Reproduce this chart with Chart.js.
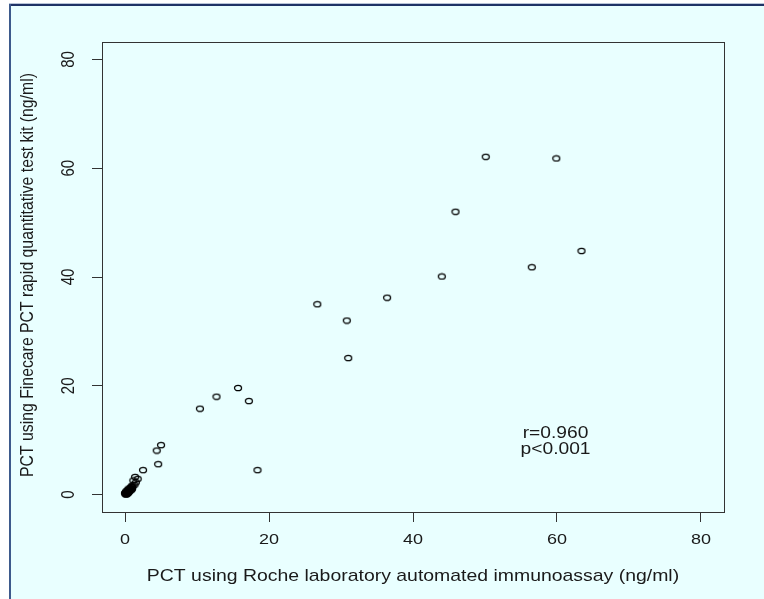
<!DOCTYPE html>
<html>
<head>
<meta charset="utf-8">
<script src="https://cdn.jsdelivr.net/npm/chart.js@4"></script>
<style>
  html,body{margin:0;padding:0;background:#ffffff;}
  #wrap{width:764px;height:599px;position:relative;}
</style>
</head>
<body>
<div id="wrap"><canvas id="c" width="764" height="599"></canvas></div>
<script>
// ---- data ----
const rocheX = [50.1, 59.9, 45.9, 63.4, 56.5, 44.0, 26.7, 36.4, 30.8, 31.0,
  10.4, 12.7, 15.7, 17.2, 18.4, 5.0, 4.4, 4.6, 2.5,
  1.4, 1.75, 1.15, 1.5, 1.3, 0.9,
  0.05, 0.08, 0.1, 0.12, 0.15, 0.2, 0.22, 0.25, 0.3, 0.3, 0.35, 0.4, 0.42, 0.45, 0.5,
  0.55, 0.6, 0.62, 0.7, 0.75, 0.8, 0.85, 0.9, 0.95, 1.0, 1.05, 0.15, 0.0, 0.35, 0.5];
const finecareY = [62.1, 61.8, 52.0, 44.8, 41.8, 40.1, 35.0, 36.2, 32.0, 25.1,
  15.8, 18.0, 19.6, 17.2, 4.5, 9.1, 8.1, 5.6, 4.5,
  3.25, 2.9, 2.6, 2.25, 1.8, 1.5,
  0.1, 0.2, 0.05, 0.3, 0.15, 0.4, 0.1, 0.25, 0.5, 0.2, 0.35, 0.6, 0.3, 0.45, 0.8,
  0.5, 0.7, 1.0, 0.9, 1.2, 0.8, 1.1, 1.4, 1.0, 1.3, 1.7, 0.6, 0.3, 0.8, 1.1];
const xTicks = [0, 20, 40, 60, 80];
const yTicks = [0, 20, 40, 60, 80];
const xTitle = "PCT using Roche laboratory automated immunoassay (ng/ml)";
const yTitle = "PCT using Finecare PCT rapid quantitative test kit (ng/ml)";
const statLines = ["r=0.960", "p<0.001"];
const statX = 59.8;
const statY = [11.2, 8.3];

// ---- styling ----
const FONT = '"Liberation Sans", Arial, sans-serif';
const STRETCH = 1.2;
const INK = '#1a1a1a';

// open-circle marker, slightly wider than tall like the reference
const marker = document.createElement('canvas');
marker.width = 10; marker.height = 8;
(function(){
  const m = marker.getContext('2d');
  m.strokeStyle = '#000000';
  m.lineWidth = 1.3;
  m.beginPath();
  m.ellipse(5, 4, 3.5, 2.7, 0, 0, Math.PI * 2);
  m.stroke();
})();

const points = rocheX.map((x, i) => ({x: x, y: finecareY[i]}));

function stretchedText(ctx, text, x, y, size, rotate) {
  ctx.save();
  ctx.translate(x, y);
  ctx.scale(STRETCH, 1);
  if (rotate) ctx.rotate(-Math.PI / 2);
  ctx.font = size + 'px ' + FONT;
  ctx.fillStyle = INK;
  ctx.textAlign = 'center';
  ctx.textBaseline = 'middle';
  ctx.fillText(text, 0, 0);
  ctx.restore();
}

const decor = {
  id: 'decor',
  beforeDraw(chart) {
    const ctx = chart.ctx;
    ctx.save();
    ctx.fillStyle = '#ffffff';
    ctx.fillRect(0, 0, chart.width, chart.height);
    ctx.fillStyle = '#e9ffff';
    ctx.fillRect(11, 6, chart.width - 11, chart.height - 6);
    // frame lines (top and left)
    ctx.fillStyle = '#b8c4d8';
    ctx.fillRect(9, 3, chart.width - 9, 1);
    ctx.fillStyle = '#1f3366';
    ctx.fillRect(9, 4, chart.width - 9, 2);
    ctx.fillStyle = '#3d5a8c';
    ctx.fillRect(9, 4, 2, chart.height - 4);
    ctx.restore();
  },
  afterDraw(chart) {
    const ctx = chart.ctx;
    const a = chart.chartArea;
    const xs = chart.scales.x, ys = chart.scales.y;
    ctx.save();
    // plot box
    ctx.strokeStyle = '#333333';
    ctx.lineWidth = 1;
    ctx.strokeRect(Math.round(a.left) + 0.5, Math.round(a.top) + 0.5,
      Math.round(a.right - a.left), Math.round(a.bottom - a.top));
    // tick labels
    xs.ticks.forEach(t => {
      stretchedText(ctx, String(t.value), xs.getPixelForValue(t.value), 540, 15, false);
    });
    ys.ticks.forEach(t => {
      stretchedText(ctx, String(t.value), 69, ys.getPixelForValue(t.value), 15, true);
    });
    // titles
    stretchedText(ctx, xTitle, (xs.getPixelForValue(0) + xs.getPixelForValue(80)) / 2 + 0, 577, 16.2, false);
    stretchedText(ctx, yTitle, 28, (ys.getPixelForValue(0) + ys.getPixelForValue(80)) / 2 - 2, 15.8, true);
    // statistics annotation
    statLines.forEach((s, i) => {
      stretchedText(ctx, s, xs.getPixelForValue(statX), ys.getPixelForValue(statY[i]), 16, false);
    });
    ctx.restore();
  }
};

new Chart(document.getElementById('c'), {
  type: 'scatter',
  data: {
    datasets: [{
      data: points,
      pointStyle: marker,
      pointRadius: 4,
      pointHoverRadius: 4,
      showLine: false
    }]
  },
  options: {
    responsive: false,
    animation: false,
    devicePixelRatio: 1,
    layout: { padding: { left: 0, right: 40, top: 42, bottom: 0 } },
    plugins: { legend: { display: false }, tooltip: { enabled: false } },
    scales: {
      x: {
        type: 'linear', min: -3.2, max: 83.2,
        afterBuildTicks: s => { s.ticks = xTicks.map(v => ({value: v})); },
        afterFit: s => { s.height = 87; },
        ticks: { display: false },
        border: { display: false },
        grid: { drawOnChartArea: false, drawTicks: true, tickLength: 10, color: '#333333', lineWidth: 1 }
      },
      y: {
        type: 'linear', min: -3.2, max: 83.2,
        afterBuildTicks: s => { s.ticks = yTicks.map(v => ({value: v})); },
        afterFit: s => { s.width = 102; },
        ticks: { display: false },
        border: { display: false },
        grid: { drawOnChartArea: false, drawTicks: true, tickLength: 10, color: '#333333', lineWidth: 1 }
      }
    }
  },
  plugins: [decor]
});
</script>
</body>
</html>
